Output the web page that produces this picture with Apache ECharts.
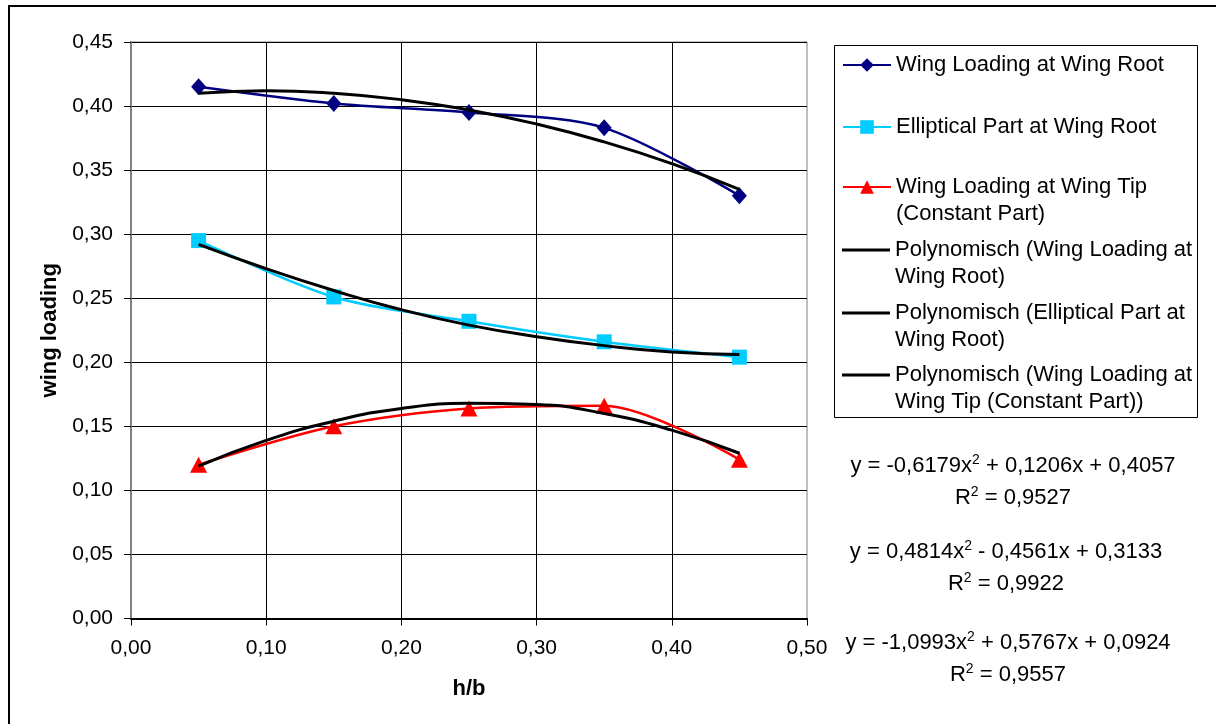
<!DOCTYPE html>
<html>
<head>
<meta charset="utf-8">
<script src="https://cdn.jsdelivr.net/npm/echarts@6/dist/echarts.min.js"></script>
<style>
  html, body { margin: 0; padding: 0; background: #fff; }
  #chart { width: 1216px; height: 724px; }
</style>
</head>
<body>
<div id="chart"></div>
<script>
// h/b positions of the measured points
const xData = [0.05, 0.15, 0.25, 0.35, 0.45]
const rootLoading = [0.415, 0.402, 0.395, 0.383, 0.330]
const ellipticalRoot = [0.295, 0.251, 0.232, 0.216, 0.204]
const tipLoading = [0.120, 0.150, 0.164, 0.166, 0.124]

// trendlines
const trendX = [0.05, 0.10, 0.15, 0.20, 0.25, 0.30, 0.35, 0.40, 0.45]
const trendRoot = [0.410, 0.412, 0.410, 0.405, 0.397, 0.386, 0.372, 0.355, 0.335]
const trendElliptical = [0.292, 0.273, 0.256, 0.241, 0.229, 0.220, 0.213, 0.208, 0.206]
const trendTip = [0.119, 0.139, 0.154, 0.164, 0.168, 0.167, 0.160, 0.147, 0.129]

const seriesNames = [
  'Wing Loading at Wing Root',
  'Elliptical Part at Wing Root',
  'Wing Loading at Wing Tip\n(Constant Part)',
  'Polynomisch (Wing Loading at\nWing Root)',
  'Polynomisch (Elliptical Part at\nWing Root)',
  'Polynomisch (Wing Loading at\nWing Tip (Constant Part))'
]

const equations = [
  ['y = -0,6179x', ' + 0,1206x + 0,4057', '0,9527'],
  ['y = 0,4814x', ' - 0,4561x + 0,3133', '0,9922'],
  ['y = -1,0993x', ' + 0,5767x + 0,0924', '0,9557']
]

const FONT = '"Liberation Sans", Arial, sans-serif'
const fmt = (v) => v.toFixed(2).replace('.', ',')
const pairs = (xs, ys) => xs.map((x, i) => [x, ys[i]])

const chart = echarts.init(document.getElementById('chart'))

// legend: one component per entry so the rows sit like in Excel
// (two-line entries get an empty first line so the icon lines up with the first text line)
const legendTops = [51.5, 113.5, 146.5, 209.5, 272.5, 334.5]
const legends = seriesNames.map((name, i) => {
  const multi = name.indexOf('\n') >= 0
  const lg = {
    data: [name],
    left: 842,
    top: legendTops[i],
    orient: 'vertical',
    padding: 0,
    itemWidth: 48,
    itemHeight: 17,
    selectedMode: false,
    formatter: multi ? (n) => '\n' + n : '{name}',
    textStyle: {
      fontFamily: FONT,
      fontSize: 22,
      color: '#000',
      lineHeight: 27
    }
  }
  if (i >= 3) {
    lg.data = [{ name: name, icon: 'rect' }]
    lg.itemHeight = 3
  }
  return lg
})

const graphics = [
  // outer chart border (only top/left visible)
  {
    type: 'rect',
    shape: { x: 9, y: 6, width: 1400, height: 1000 },
    style: { fill: 'none', stroke: '#000', lineWidth: 2 },
    silent: true
  },
  // legend box
  {
    type: 'rect',
    shape: { x: 834.5, y: 45.5, width: 363, height: 372 },
    style: { fill: 'none', stroke: '#000', lineWidth: 1 },
    silent: true,
    z: -1
  }
]

const eqCenters = [1013, 1006, 1008]
const eqRows = [[466, 498], [552, 584], [643, 675]]
const rich = {
  t: { fontFamily: FONT, fontSize: 22, color: '#000', lineHeight: 26 },
  s: { fontFamily: FONT, fontSize: 14, color: '#000', lineHeight: 26, verticalAlign: 'top' }
}
equations.forEach((eq, i) => {
  graphics.push({
    type: 'text',
    x: eqCenters[i],
    y: eqRows[i][0],
    style: {
      text: '{t|' + eq[0] + '}{s|2}{t|' + eq[1] + '}',
      rich: rich,
      align: 'center',
      verticalAlign: 'middle'
    }
  })
  graphics.push({
    type: 'text',
    x: eqCenters[i],
    y: eqRows[i][1],
    style: {
      text: '{t|R}{s|2}{t| = ' + eq[2] + '}',
      rich: rich,
      align: 'center',
      verticalAlign: 'middle'
    }
  })
})

const option = {
  animation: false,
  backgroundColor: '#fff',
  grid: {
    left: 131,
    top: 42,
    width: 676,
    height: 576.5,
    show: true,
    borderColor: '#808080',
    borderWidth: 1,
    backgroundColor: '#fff'
  },
  legend: legends,
  graphic: graphics,
  xAxis: {
    type: 'value',
    min: 0,
    max: 0.5,
    interval: 0.1,
    name: 'h/b',
    nameLocation: 'middle',
    nameGap: 59,
    nameTextStyle: { fontFamily: FONT, fontSize: 22, fontWeight: 'bold', color: '#000' },
    axisLine: { lineStyle: { color: '#000', width: 2 } },
    axisTick: { show: true, length: 7, lineStyle: { color: '#000' } },
    axisLabel: { formatter: fmt, fontFamily: FONT, fontSize: 21, color: '#000', margin: 19 },
    splitLine: { show: true, showMaxLine: false, lineStyle: { color: '#000', width: 1 } }
  },
  yAxis: {
    type: 'value',
    min: 0,
    max: 0.45,
    interval: 0.05,
    name: 'wing loading',
    nameLocation: 'middle',
    nameGap: 69,
    nameTextStyle: { fontFamily: FONT, fontSize: 22, fontWeight: 'bold', color: '#000' },
    axisLine: { show: true, lineStyle: { color: '#808080', width: 2 } },
    axisTick: { show: true, length: 7, lineStyle: { color: '#000' } },
    axisLabel: { formatter: fmt, fontFamily: FONT, fontSize: 21, color: '#000', margin: 18 },
    splitLine: { show: true, lineStyle: { color: '#000', width: 1 } }
  },
  series: [
    {
      name: seriesNames[0],
      type: 'line',
      data: pairs(xData, rootLoading),
      smooth: 0.3,
      symbol: 'diamond',
      symbolSize: [15, 17],
      lineStyle: { color: '#000080', width: 2.5 },
      itemStyle: { color: '#000080' },
      z: 2
    },
    {
      name: seriesNames[1],
      type: 'line',
      data: pairs(xData, ellipticalRoot),
      smooth: 0.3,
      symbol: 'rect',
      symbolSize: 15,
      lineStyle: { color: '#00ccff', width: 2.5 },
      itemStyle: { color: '#00ccff' },
      z: 2
    },
    {
      name: seriesNames[2],
      type: 'line',
      data: pairs(xData, tipLoading),
      smooth: 0.3,
      symbol: 'triangle',
      symbolSize: [17, 16],
      lineStyle: { color: '#ff0000', width: 2.5 },
      itemStyle: { color: '#ff0000' },
      z: 2
    },
    {
      name: seriesNames[3],
      type: 'line',
      data: pairs(trendX, trendRoot),
      smooth: true,
      showSymbol: false,
      symbol: 'none',
      lineStyle: { color: '#000', width: 3 },
      itemStyle: { color: '#000' },
      z: 3
    },
    {
      name: seriesNames[4],
      type: 'line',
      data: pairs(trendX, trendElliptical),
      smooth: true,
      showSymbol: false,
      symbol: 'none',
      lineStyle: { color: '#000', width: 3 },
      itemStyle: { color: '#000' },
      z: 3
    },
    {
      name: seriesNames[5],
      type: 'line',
      data: pairs(trendX, trendTip),
      smooth: true,
      showSymbol: false,
      symbol: 'none',
      lineStyle: { color: '#000', width: 3 },
      itemStyle: { color: '#000' },
      z: 3
    }
  ]
}

chart.setOption(option)
</script>
</body>
</html>
